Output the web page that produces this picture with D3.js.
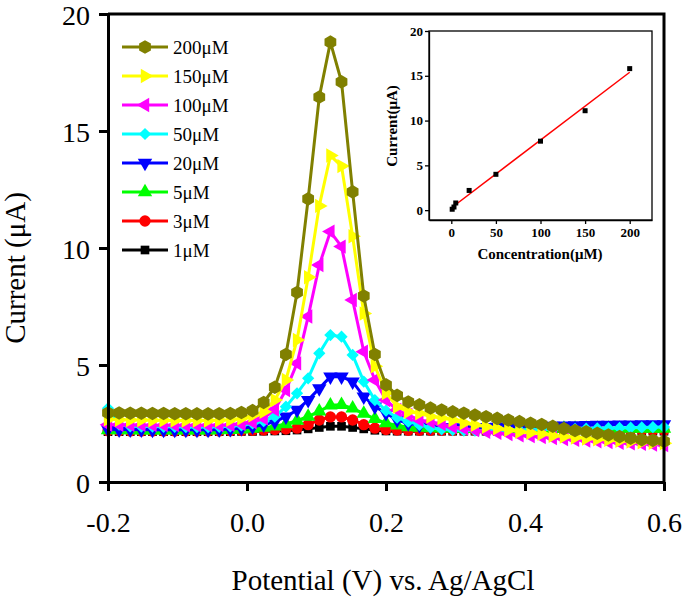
<!DOCTYPE html>
<html>
<head>
<meta charset="utf-8">
<script src="https://cdn.jsdelivr.net/npm/d3@7"></script>
<style>
  body { margin: 0; background: #fff; }
  svg { display: block; font-family: "Liberation Serif", "Times New Roman", serif; }
</style>
</head>
<body>
<svg id="chart" width="685" height="599"></svg>
<script>
// potential grid (V)
const potential = [-0.200,-0.184,-0.168,-0.152,-0.136,-0.120,-0.104,-0.088,-0.072,-0.056,-0.040,-0.024,-0.008,
  0.008,0.024,0.040,0.056,0.072,0.088,0.104,0.120,0.136,0.152,0.168,0.184,0.200,
  0.216,0.232,0.248,0.264,0.280,0.296,0.312,0.328,0.344,0.360,0.376,0.392,0.408,
  0.424,0.440,0.456,0.472,0.488,0.504,0.520,0.536,0.552,0.568,0.584,0.600];

// current (uA) per concentration
const c200 = [2.95,2.95,2.94,2.94,2.93,2.93,2.92,2.92,2.91,2.91,2.92,2.93,2.97,
  3.05,3.4,4.05,5.45,8.1,12.1,16.45,18.8,17.1,12.4,7.95,5.45,4.15,
  3.7,3.42,3.3,3.16,3.08,3.0,2.94,2.86,2.79,2.72,2.65,2.58,2.51,
  2.46,2.38,2.28,2.2,2.15,2.08,2.01,1.94,1.87,1.81,1.78,1.74];
const c150 = [2.68,2.66,2.65,2.65,2.64,2.64,2.63,2.63,2.63,2.63,2.64,2.66,2.72,
  2.85,3.0,3.5,4.36,6.07,8.75,11.8,13.95,13.5,10.5,7.2,4.95,3.8,
  3.22,3.0,2.94,2.8,2.73,2.65,2.52,2.44,2.36,2.29,2.22,2.15,2.1,
  2.06,1.98,1.94,1.9,1.86,1.83,1.8,1.76,1.73,1.7,1.68,1.66];
const c100 = [2.45,2.45,2.44,2.44,2.43,2.43,2.43,2.42,2.42,2.42,2.43,2.44,2.48,
  2.55,2.72,3.1,3.93,5.07,7.07,9.27,10.7,10.06,7.78,5.57,4.36,3.5,
  3.08,2.86,2.65,2.58,2.48,2.36,2.29,2.22,2.15,2.1,2.05,2.0,1.96,
  1.92,1.88,1.84,1.8,1.77,1.74,1.71,1.68,1.65,1.63,1.6,1.58];
const c50 = [3.15,2.45,2.38,2.37,2.37,2.36,2.36,2.35,2.35,2.35,2.36,2.38,2.42,
  2.5,2.6,2.79,3.22,3.79,4.43,5.5,6.28,6.21,5.43,4.29,3.5,3.05,
  2.75,2.58,2.44,2.32,2.25,2.22,2.2,2.2,2.2,2.2,2.21,2.22,2.23,
  2.24,2.25,2.26,2.27,2.28,2.29,2.3,2.31,2.32,2.33,2.34,2.35];
const c20 = [2.25,2.24,2.24,2.24,2.23,2.23,2.23,2.23,2.23,2.23,2.24,2.26,2.3,
  2.36,2.45,2.58,2.79,3.08,3.5,4.0,4.5,4.5,4.29,3.65,3.22,2.94,
  2.65,2.5,2.42,2.36,2.33,2.32,2.32,2.33,2.34,2.35,2.36,2.37,2.38,
  2.39,2.4,2.41,2.42,2.43,2.44,2.44,2.45,2.45,2.46,2.46,2.46];
const c5 = [2.22,2.22,2.22,2.21,2.21,2.21,2.21,2.21,2.21,2.21,2.22,2.23,2.25,
  2.28,2.32,2.38,2.48,2.62,2.8,3.02,3.28,3.3,3.15,2.92,2.7,2.52,
  2.42,2.35,2.32,2.3,2.29,2.28,2.28,2.28,2.28,2.28,2.28,2.28,2.28,
  2.28,2.28,2.28,2.28,2.28,2.28,2.28,2.28,2.28,2.28,2.28,2.28];
const c3 = [2.19,2.19,2.18,2.18,2.18,2.18,2.18,2.18,2.18,2.18,2.18,2.19,2.2,
  2.21,2.22,2.24,2.26,2.3,2.45,2.65,2.78,2.78,2.65,2.45,2.3,2.24,
  2.22,2.21,2.21,2.21,2.21,2.21,2.21,2.21,2.21,2.21,2.21,2.21,2.21,
  2.21,2.21,2.21,2.21,2.21,2.21,2.21,2.21,2.21,2.21,2.21,2.21];
const c1 = [2.15,2.15,2.15,2.15,2.15,2.15,2.15,2.15,2.15,2.15,2.15,2.15,2.16,
  2.16,2.17,2.18,2.19,2.22,2.27,2.33,2.38,2.38,2.33,2.27,2.21,2.18,
  2.17,2.17,2.17,2.17,2.17,2.17,2.17,2.17,2.17,2.17,2.17,2.17,2.17,
  2.17,2.17,2.17,2.17,2.17,2.17,2.17,2.17,2.17,2.17,2.17,2.17];

const seriesNames = ["200μM","150μM","100μM","50μM","20μM","5μM","3μM","1μM"];
const seriesValues = [c200, c150, c100, c50, c20, c5, c3, c1];
const seriesColors = ["#808000","#ffff00","#ff00ff","#00ffff","#0000ff","#00ff00","#ff0000","#000000"];

const xTicks = [-0.2, 0.0, 0.2, 0.4, 0.6];
const yTicks = [0, 5, 10, 15, 20];

// inset: calibration
const concentration = [1, 3, 5, 20, 50, 100, 150, 200];
const peakCurrent = [0.1, 0.35, 0.8, 2.2, 4.0, 7.7, 11.1, 15.8];
const insetXTicks = [0, 50, 100, 150, 200];
const insetYTicks = [0, 5, 10, 15, 20];

const svg = d3.select("#chart");

const x = d3.scaleLinear().domain([-0.2, 0.6]).range([108, 664]);
const y = d3.scaleLinear().domain([0, 20]).range([482, 14]);

// hexagon marker for the 200uM series
const symbolHex = {
  draw(ctx, size) {
    const r = Math.sqrt(size / (1.5 * Math.sqrt(3)));
    for (let i = 0; i < 6; i++) {
      const a = Math.PI / 6 + i * Math.PI / 3;
      if (i === 0) ctx.moveTo(r * Math.cos(a), r * Math.sin(a));
      else ctx.lineTo(r * Math.cos(a), r * Math.sin(a));
    }
    ctx.closePath();
  }
};
const markers = [
  {type: symbolHex, size: 120, rot: 0},
  {type: d3.symbolTriangle, size: 90, rot: 90},
  {type: d3.symbolTriangle, size: 90, rot: -90},
  {type: d3.symbolSquare, size: 75, rot: 45},
  {type: d3.symbolTriangle, size: 90, rot: 180},
  {type: d3.symbolTriangle, size: 90, rot: 0},
  {type: d3.symbolCircle, size: 100, rot: 0},
  {type: d3.symbolSquare, size: 75, rot: 0}
];

const line = d3.line().x((d, i) => x(potential[i])).y(d => y(d));

// draw lowest concentration first so 200uM sits on top
const order = d3.range(seriesValues.length).reverse();
const plot = svg.append("g");
order.forEach(k => {
  const g = plot.append("g");
  g.append("path")
    .attr("d", line(seriesValues[k]))
    .attr("fill", "none")
    .attr("stroke", seriesColors[k])
    .attr("stroke-width", 3);
  g.selectAll("path.m")
    .data(seriesValues[k])
    .join("path")
    .attr("class", "m")
    .attr("d", d3.symbol(markers[k].type, markers[k].size))
    .attr("transform", (d, i) => `translate(${x(potential[i])},${y(d)}) rotate(${markers[k].rot})`)
    .attr("fill", seriesColors[k]);
});

// axes
const fmt = d => d.toFixed(1);
const xAxis = svg.append("g")
  .attr("transform", "translate(0,482)")
  .call(d3.axisBottom(x).tickValues(xTicks).tickFormat(fmt).tickSize(9).tickSizeOuter(0).tickPadding(21));
const yAxis = svg.append("g")
  .attr("transform", "translate(108,0)")
  .call(d3.axisLeft(y).tickValues(yTicks).tickSize(9).tickSizeOuter(0).tickPadding(9));
[xAxis, yAxis].forEach(a => {
  a.select(".domain").attr("stroke-width", 3).attr("stroke", "#000");
  a.selectAll(".tick line").attr("stroke-width", 3).attr("stroke", "#000");
  a.selectAll(".tick text").attr("font-size", 28).attr("font-family", "Liberation Serif").attr("fill", "#000");
});
yAxis.selectAll(".tick text").attr("dy", "0.36em");

// frame top and right
svg.append("path")
  .attr("d", `M${x(-0.2)},${y(20)}H${x(0.6)}V${y(0)}`)
  .attr("fill", "none")
  .attr("stroke", "#000")
  .attr("stroke-width", 3);

svg.append("text")
  .attr("x", 383).attr("y", 590)
  .attr("text-anchor", "middle")
  .attr("font-size", 29)
  .text("Potential (V) vs. Ag/AgCl");
svg.append("text")
  .attr("transform", "translate(25,268) rotate(-90)")
  .attr("text-anchor", "middle")
  .attr("font-size", 29)
  .text("Current (μA)");

// legend
const legend = svg.append("g");
seriesNames.forEach((name, k) => {
  const ly = 47 + 29 * k;
  legend.append("line")
    .attr("x1", 122).attr("x2", 168).attr("y1", ly).attr("y2", ly)
    .attr("stroke", seriesColors[k]).attr("stroke-width", 3);
  legend.append("path")
    .attr("d", d3.symbol(markers[k].type, markers[k].size)())
    .attr("transform", `translate(145,${ly}) rotate(${markers[k].rot})`)
    .attr("fill", seriesColors[k]);
  legend.append("text")
    .attr("x", 173).attr("y", ly + 7)
    .attr("font-size", 19)
    .text(name);
});

// inset
const ix = d3.scaleLinear().domain([-25, 225]).range([429, 652]);
const iy = d3.scaleLinear().domain([-1.1, 20]).range([220, 31]);
const inset = svg.append("g");
inset.append("rect")
  .attr("x", 429).attr("y", 31).attr("width", 652 - 429).attr("height", 220 - 31)
  .attr("fill", "none").attr("stroke", "#000").attr("stroke-width", 1.3);
const ixAxis = inset.append("g")
  .attr("transform", "translate(0,220)")
  .call(d3.axisBottom(ix).tickValues(insetXTicks).tickSize(4).tickSizeOuter(0).tickPadding(4));
const iyAxis = inset.append("g")
  .attr("transform", "translate(429,0)")
  .call(d3.axisLeft(iy).tickValues(insetYTicks).tickSize(4).tickSizeOuter(0).tickPadding(2));
[ixAxis, iyAxis].forEach(a => {
  a.select(".domain").attr("stroke-width", 1.3);
  a.selectAll(".tick line").attr("stroke-width", 1.3);
  a.selectAll(".tick text").attr("font-size", 13).attr("font-weight", "bold").attr("font-family", "Liberation Serif");
});

// least-squares fit through the calibration points
const mx = d3.mean(concentration), my = d3.mean(peakCurrent);
const slope = d3.sum(concentration, (c, i) => (c - mx) * (peakCurrent[i] - my)) /
  d3.sum(concentration, c => (c - mx) * (c - mx));
const intercept = my - slope * mx;
const [cmin, cmax] = d3.extent(concentration);
inset.append("line")
  .attr("x1", ix(cmin)).attr("y1", iy(intercept + slope * cmin))
  .attr("x2", ix(cmax)).attr("y2", iy(intercept + slope * cmax))
  .attr("stroke", "#ff0000").attr("stroke-width", 1.5);
inset.selectAll("rect.pt")
  .data(concentration)
  .join("rect")
  .attr("class", "pt")
  .attr("x", (c) => ix(c) - 2.5)
  .attr("y", (c, i) => iy(peakCurrent[i]) - 2.5)
  .attr("width", 5).attr("height", 5)
  .attr("fill", "#000");

inset.append("text")
  .attr("x", 540).attr("y", 259)
  .attr("text-anchor", "middle")
  .attr("font-size", 15).attr("font-weight", "bold")
  .text("Concentration(μM)");
inset.append("text")
  .attr("transform", "translate(397,126) rotate(-90)")
  .attr("text-anchor", "middle")
  .attr("font-size", 15).attr("font-weight", "bold")
  .text("Current(μA)");
</script>
</body>
</html>
